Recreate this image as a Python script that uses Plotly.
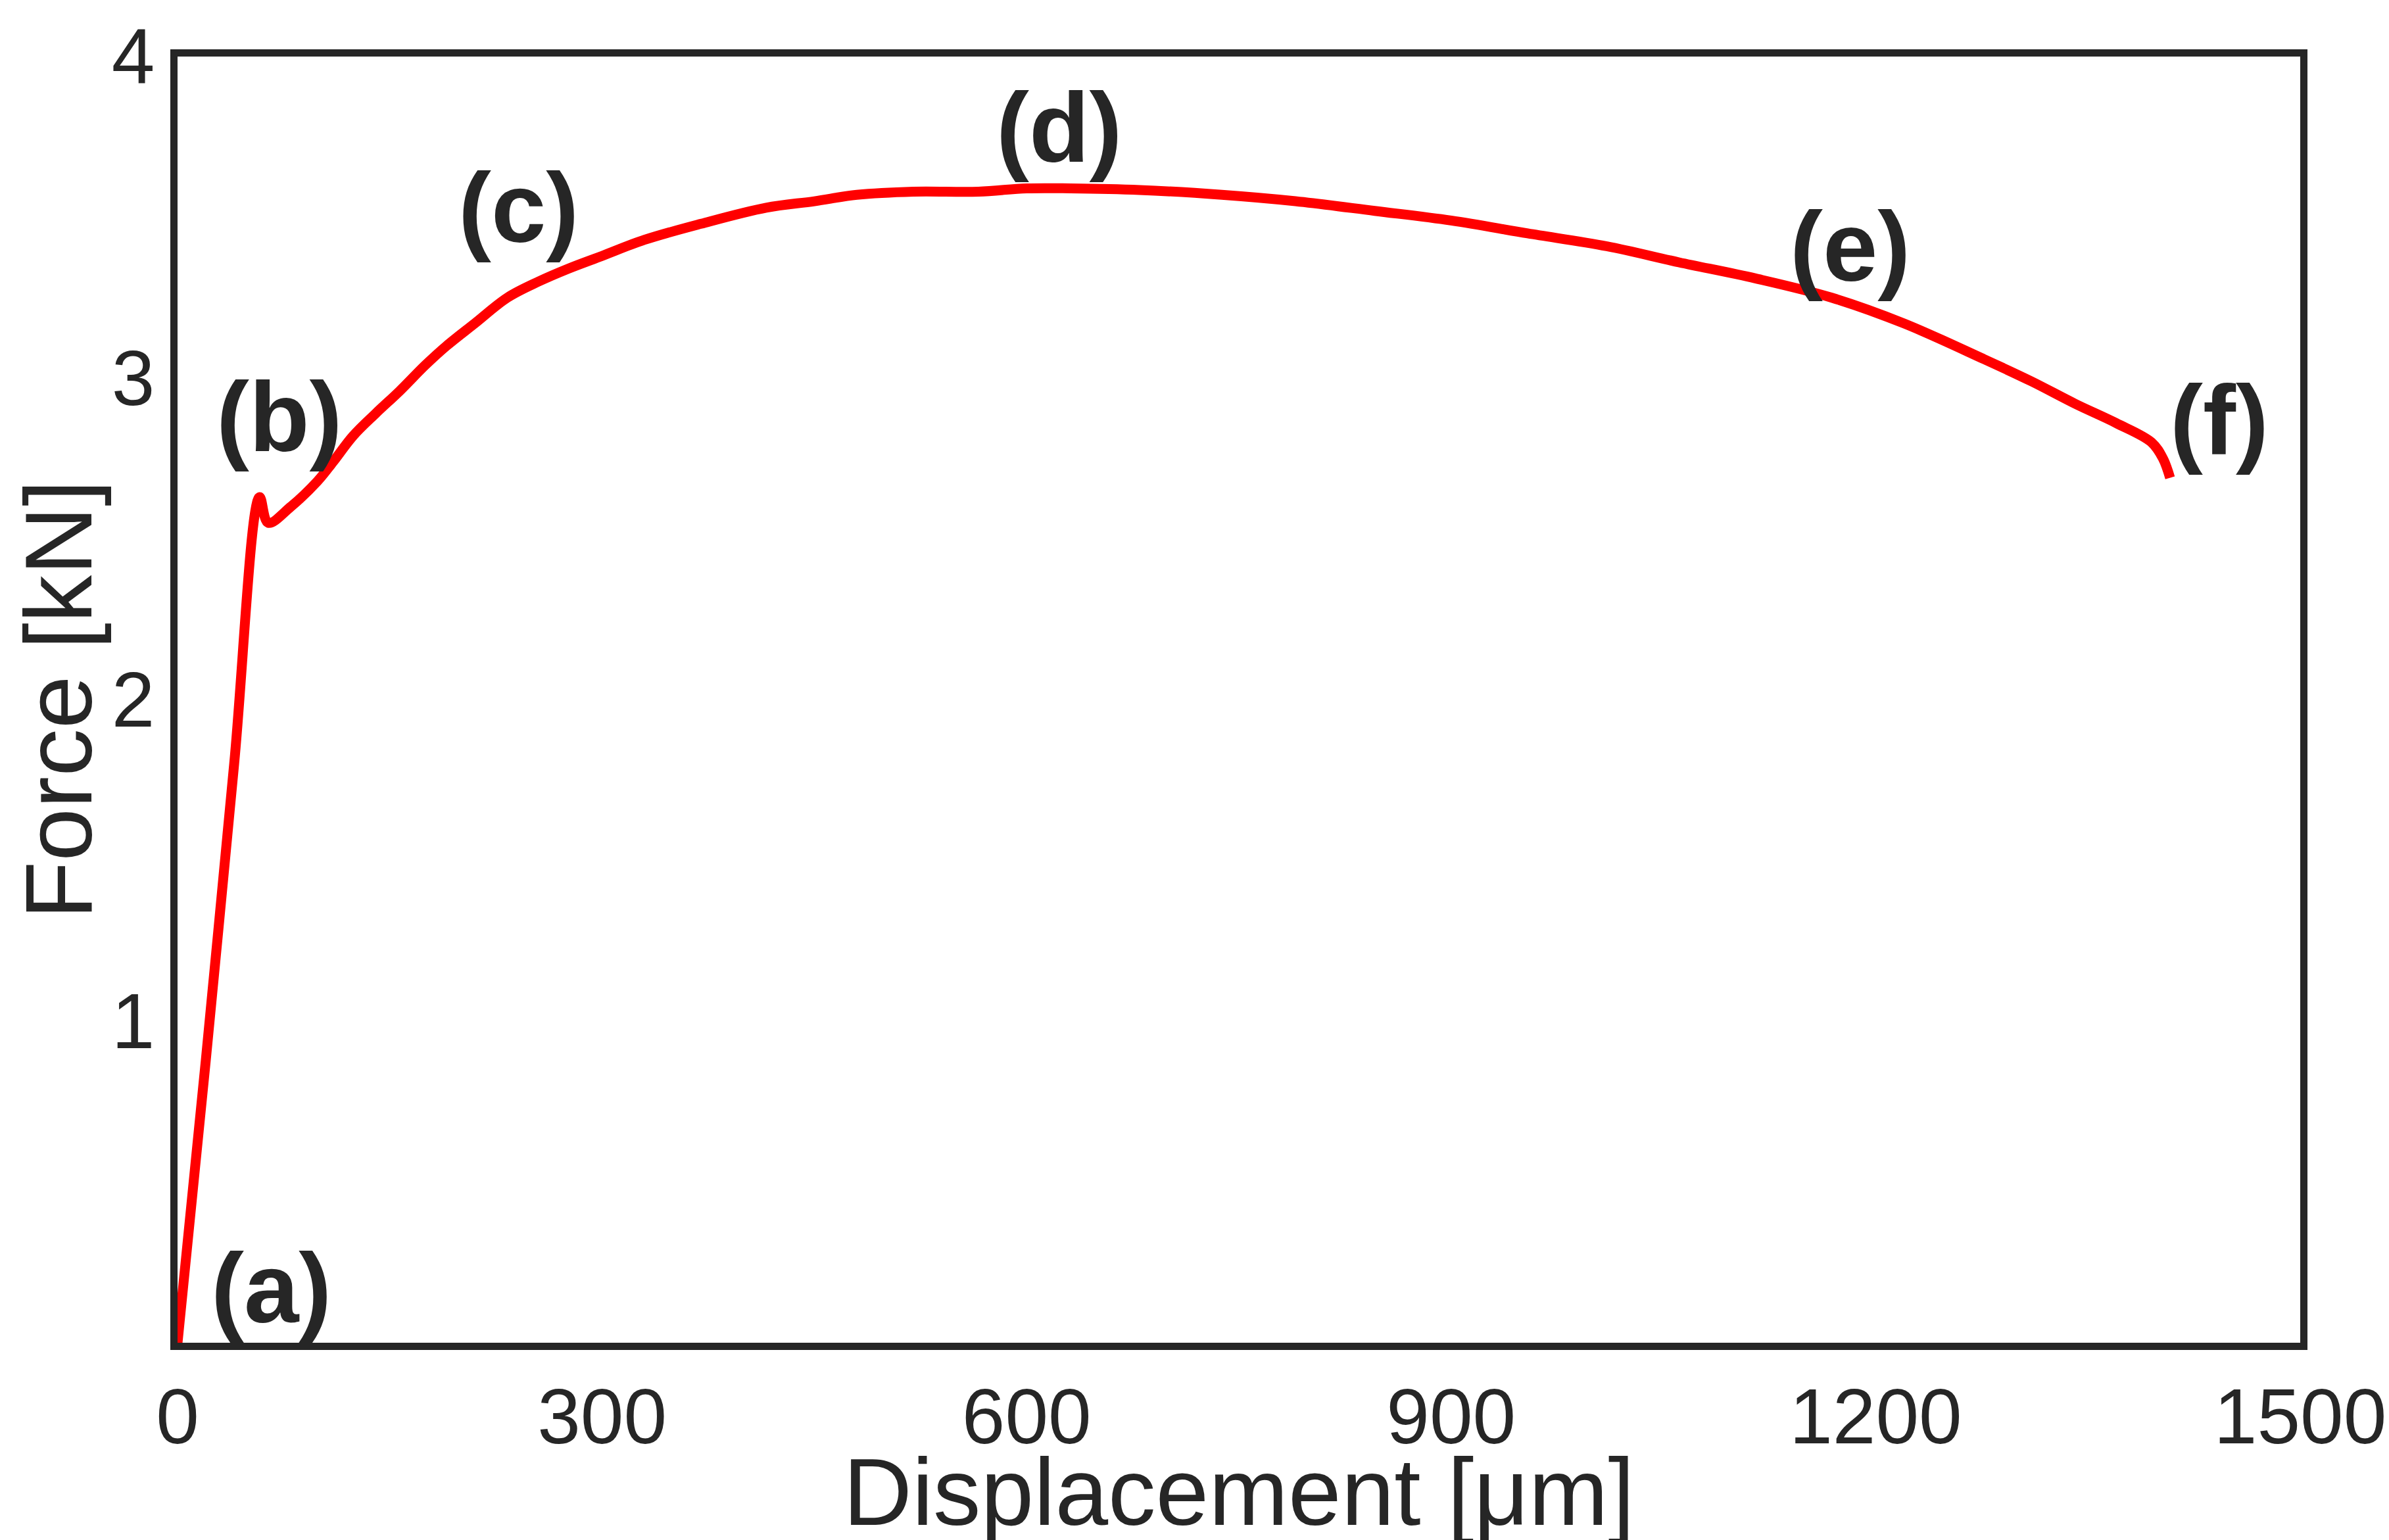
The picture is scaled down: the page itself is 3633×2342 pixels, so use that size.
import plotly.graph_objects as go

# force-displacement curve
disp = [0, 20, 40, 58, 64, 80, 99, 110, 124, 140, 157, 175, 190, 210, 233, 255, 276,
        300, 330, 370, 416, 450, 480, 520, 566, 600, 631, 680, 738, 790, 846, 900,
        954, 1010, 1061, 1115, 1169, 1220, 1276, 1310, 1341, 1370, 1395, 1403, 1408]
force = [0, 0.88, 1.80, 2.63, 2.55, 2.60, 2.68, 2.74, 2.82, 2.89, 2.96, 3.04, 3.10,
         3.17, 3.25, 3.30, 3.34, 3.38, 3.43, 3.48, 3.53, 3.55, 3.57, 3.58, 3.58, 3.59,
         3.59, 3.585, 3.57, 3.55, 3.52, 3.49, 3.45, 3.41, 3.36, 3.31, 3.25, 3.17, 3.06,
         2.99, 2.92, 2.86, 2.80, 2.75, 2.69]

stage_labels = ["(a)", "(b)", "(c)", "(d)", "(e)", "(f)"]
stage_x = [66, 72, 241, 623, 1182, 1443]
stage_y = [0.17, 2.88, 3.53, 3.78, 3.41, 2.87]

x_ticks = [0, 300, 600, 900, 1200, 1500]
y_ticks = [1, 2, 3, 4]

ink = "#262626"

fig = go.Figure()
fig.add_trace(go.Scatter(x=disp, y=force, mode="lines", line_shape="spline",
                         line=dict(color="red", width=15), showlegend=False))

for lab, lx, ly in zip(stage_labels, stage_x, stage_y):
    fig.add_annotation(x=lx, y=ly, text="<b>%s</b>" % lab, showarrow=False,
                       font=dict(size=150, color=ink))

fig.update_xaxes(range=[0, 1500], tickvals=x_ticks, showgrid=False, zeroline=False,
                 showline=True, mirror=True, linecolor=ink, linewidth=11,
                 title=dict(text="Displacement [μm]", font=dict(size=145, color=ink)),
                 tickfont=dict(size=118, color=ink), ticks="")
fig.update_yaxes(range=[0, 4], tickvals=y_ticks, showgrid=False, zeroline=False,
                 showline=True, mirror=True, linecolor=ink, linewidth=11,
                 title=dict(text="Force [kN]", font=dict(size=145, color=ink), standoff=30),
                 tickfont=dict(size=118, color=ink), ticks="")

fig.update_layout(width=3633, height=2342, plot_bgcolor="white", paper_bgcolor="white",
                  font=dict(family="Liberation Sans, Arial, sans-serif"),
                  margin=dict(l=262, r=139, t=70, b=308))

fig.write_html("out.html")
